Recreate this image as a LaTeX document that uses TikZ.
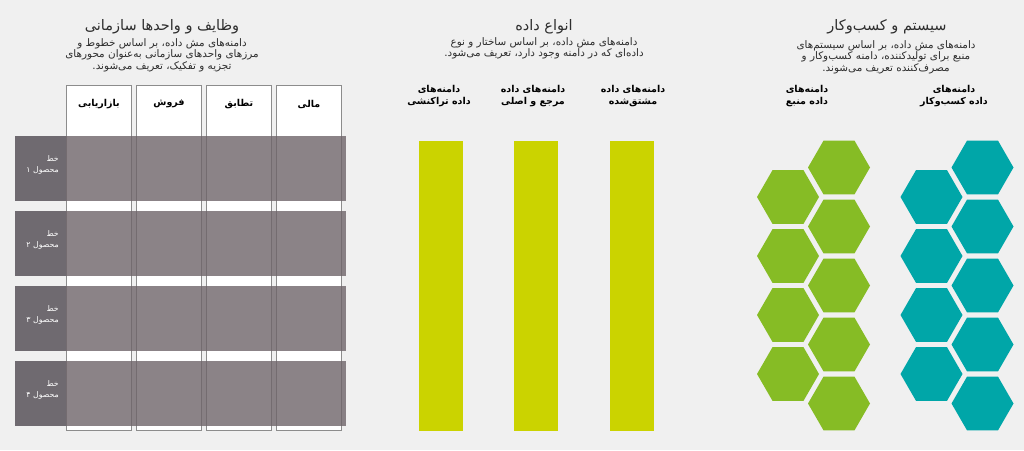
\documentclass[tikz,border=0pt]{standalone}
\usepackage{fontspec}
\newfontfamily\fa[Script=Arabic,BoldFont={DejaVu Sans Bold}]{DejaVu Sans}
\TeXXeTstate=1
\newcommand\rl[1]{\beginR #1\endR}
\definecolor{bg}{HTML}{F0F0F0}
\definecolor{colborder}{HTML}{8C8C8C}
\definecolor{barfill}{HTML}{6E6569}
\definecolor{labelbox}{HTML}{6F6A70}
\definecolor{limebar}{HTML}{CBD300}
\definecolor{hexgreen}{HTML}{86BC25}
\definecolor{hexteal}{HTML}{00A6A8}
\definecolor{txt}{HTML}{2E2E2E}
\tikzset{
  title/.style={font=\fa\fontsize{14.5}{16}\selectfont, text=txt, align=center, inner sep=0pt},
  desc/.style={font=\fa\fontsize{10.4}{11.4}\selectfont, text=txt, align=center, inner sep=0pt},
  hdr/.style={font=\fa\bfseries\fontsize{9.5}{12}\selectfont, text=black, align=center, inner sep=0pt},
  rowlbl/.style={font=\fa\fontsize{7.8}{11}\selectfont, text=white, align=right, anchor=north east, inner sep=0pt},
  colbox/.style={draw=colborder, line width=1pt, fill=white, inner sep=0pt, outer sep=0pt, anchor=north west, minimum width=65pt, minimum height=345.5pt},
  barbox/.style={fill=barfill, fill opacity=0.8, inner sep=0pt, outer sep=0pt, anchor=north west, minimum width=331pt, minimum height=65pt},
  lblbox/.style={fill=labelbox, inner sep=0pt, outer sep=0pt, anchor=north west, minimum width=51pt, minimum height=65pt},
  limebox/.style={fill=limebar, inner sep=0pt, outer sep=0pt, anchor=north west, minimum width=44pt, minimum height=290pt},
}
\begin{document}
\begin{tikzpicture}[x=1pt,y=-1pt]
\fill[bg] (0,0) rectangle (1024,450);
\useasboundingbox (0,0) rectangle (1024,450);

% ---------- left panel ----------
\node[title] (t1) at (162,26.5) {\rl{وظایف و واحدها سازمانی}};
\node[desc] (d1) at (162,55) {\rl{دامنه‌های مش داده، بر اساس خطوط و}\\\rl{مرزهای واحدهای سازمانی به‌عنوان محورهای}\\\rl{تجزیه و تفکیک، تعریف می‌شوند.}};

\node[colbox] (c1) at (66.7,85) {};
\node[colbox] (c2) at (136.5,85) {};
\node[colbox] (c3) at (206.5,85) {};
\node[colbox] (c4) at (276.7,85) {};

\node[hdr] (h1) at (99,104) {\rl{بازاریابی}};
\node[hdr] (h2) at (169,104) {\rl{فروش}};
\node[hdr] (h3) at (239,104) {\rl{تطابق}};
\node[hdr] (h4) at (309,104) {\rl{مالی}};

\foreach \i/\y/\n in {1/136/۱,2/211/۲,3/286/۳,4/361/۴}{
  \node[barbox] (b\i) at (15,\y) {};
  \node[lblbox] (l\i) at (15,\y) {};
  \node[rowlbl] (r\i) at (59,\y+19) {\rl{خط}\\\rl{محصول \n}};
}

% ---------- middle panel ----------
\node[title] (t2) at (544,26.5) {\rl{انواع داده}};
\node[desc] (d2) at (544,48.5) {\rl{دامنه‌های مش داده، بر اساس ساختار و نوع}\\\rl{داده‌ای که در دامنه وجود دارد، تعریف می‌شود.}};

\node[hdr] (m1) at (439,96) {\rl{دامنه‌های}\\\rl{داده تراکنشی}};
\node[hdr] (m2) at (533,96) {\rl{دامنه‌های داده}\\\rl{مرجع و اصلی}};
\node[hdr] (m3) at (633,96) {\rl{دامنه‌های داده}\\\rl{مشتق‌شده}};

\node[limebox] (g1) at (419,141) {};
\node[limebox] (g2) at (514.3,141) {};
\node[limebox] (g3) at (609.7,141) {};

% ---------- right panel ----------
\node[title] (t3) at (887,26.5) {\rl{سیستم و کسب‌وکار}};
\node[desc] (d3) at (886,57) {\rl{دامنه‌های مش داده، بر اساس سیستم‌های}\\\rl{منبع برای تولیدکننده، دامنه کسب‌وکار و}\\\rl{مصرف‌کننده تعریف می‌شوند.}};

\node[hdr] (s1) at (807,96) {\rl{دامنه‌های}\\\rl{داده منبع}};
\node[hdr] (s2) at (954,96) {\rl{دامنه‌های}\\\rl{داده کسب‌وکار}};

\foreach \cx/\cc in {839/hexgreen,982.5/hexteal}{
  \foreach \y in {167.5,226.5,285.5,344.5,403.5}{
    \fill[\cc] (\cx,\y) +(0:31) -- +(60:31) -- +(120:31) -- +(180:31) -- +(240:31) -- +(300:31) -- cycle;
  }
}
\foreach \cx/\cc in {788/hexgreen,931.5/hexteal}{
  \foreach \y in {197,256,315,374}{
    \fill[\cc] (\cx,\y) +(0:31) -- +(60:31) -- +(120:31) -- +(180:31) -- +(240:31) -- +(300:31) -- cycle;
  }
}
\end{tikzpicture}
\end{document}
